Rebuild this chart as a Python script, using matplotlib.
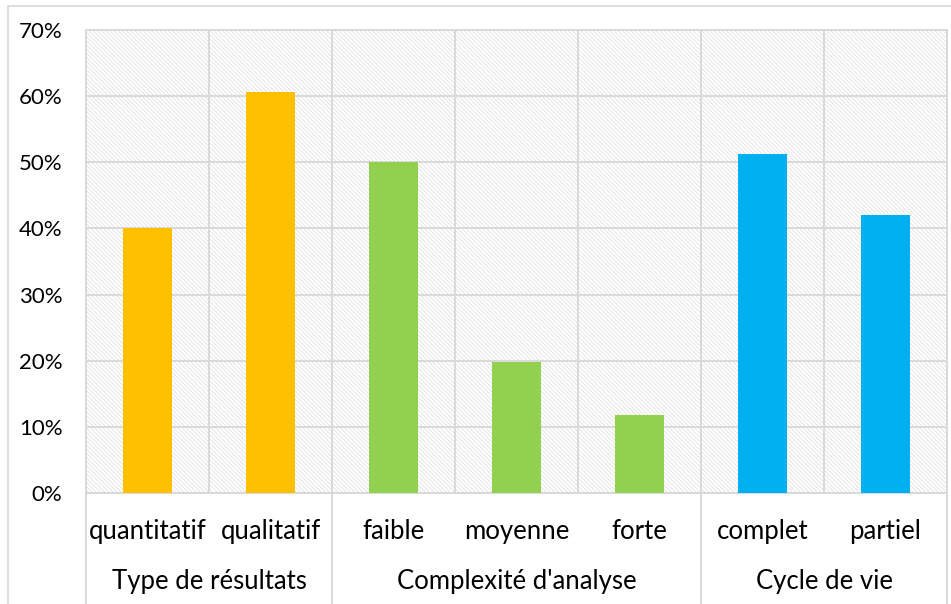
import matplotlib
matplotlib.use("Agg")
import matplotlib.pyplot as plt
from matplotlib.patches import Rectangle
from matplotlib.transforms import blended_transform_factory

# Data (percent)
categories = ["quantitatif", "qualitatif", "faible", "moyenne", "forte", "complet", "partiel"]
values = [40.1, 60.6, 50.1, 19.8, 11.8, 51.2, 42.0]
groups = ["Type de résultats", "Complexité d'analyse", "Cycle de vie"]
group_sizes = [2, 3, 2]
group_colors = ["#FFC000", "#92D050", "#00B0F0"]
yticks = [0, 10, 20, 30, 40, 50, 60, 70]

plt.rcParams['font.family'] = ['Lato', 'DejaVu Sans']
plt.rcParams['hatch.linewidth'] = 0.4

grid_col = "#d9d9d9"

fig = plt.figure(figsize=(9.51, 6.04), dpi=100)
ax = fig.add_axes([86 / 951, 111 / 604, 861 / 951, 463 / 604])

# chart area border (only top and left visible in the crop)
fig.add_artist(Rectangle((8 / 951, -0.1), 1.2, (604 - 6) / 604 + 0.1,
                         transform=fig.transFigure, fill=False,
                         edgecolor=grid_col, lw=1.2))

# hatched plot area
ax.add_patch(Rectangle((0, 0), 1, 1, transform=ax.transAxes, facecolor="white",
                       edgecolor="#d4d4d4", hatch="\\" * 8, lw=0, zorder=0))

colors = []
for c, n in zip(group_colors, group_sizes):
    colors += [c] * n

x = list(range(len(categories)))
ax.bar(x, values, width=0.4, color=colors, zorder=3)

ax.set_xlim(-0.5, len(categories) - 0.5)
ax.set_ylim(0, 70)
ax.set_yticks(yticks)
ax.set_yticklabels([f"{t}%" for t in yticks], fontsize=16)
ax.set_xticks(x)
ax.set_xticklabels(categories, fontsize=18.5)
ax.set_xticks([i + 0.5 for i in x[:-1]], minor=True)
ax.tick_params(axis="both", which="both", length=0)
ax.tick_params(axis="y", pad=17)
ax.tick_params(axis="x", pad=19)
ax.grid(True, which="major", axis="y", color=grid_col, lw=1.4, zorder=1)
ax.grid(True, which="minor", axis="x", color=grid_col, lw=1.4, zorder=1)
ax.set_axisbelow(True)
for s in ax.spines.values():
    s.set_color(grid_col)
    s.set_linewidth(1.4)

# group labels and separators under the axis
tr = blended_transform_factory(ax.transData, ax.transAxes)
start = -0.5
bounds = [start]
for g, n in zip(groups, group_sizes):
    mid = start + n / 2
    ax.text(mid, -0.192, g, transform=tr, ha="center", va="center", fontsize=18.5)
    start += n
    bounds.append(start)
for b in bounds:
    ax.plot([b, b], [0, -0.26], transform=tr, color=grid_col, lw=1.4, clip_on=False)

fig.savefig("out.png", dpi=100)
